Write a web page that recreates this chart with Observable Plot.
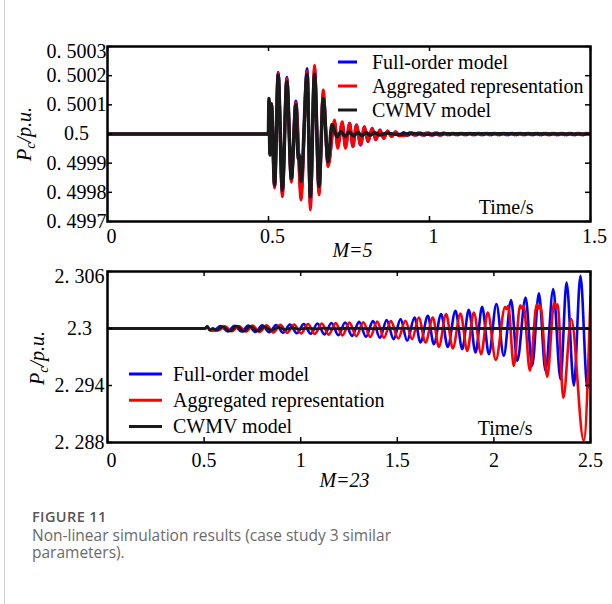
<!DOCTYPE html>
<html><head><meta charset="utf-8">
<script src="https://cdn.jsdelivr.net/npm/d3@7"></script>
<script src="https://cdn.jsdelivr.net/npm/@observablehq/plot@0.6"></script>
<style>
body{margin:0;background:#fff;}
#wrap{position:relative;width:612px;height:604px;overflow:hidden;background:#fff;}
#border{position:absolute;left:4px;top:0;width:1px;height:604px;background:#d0d0d0;}
#top{position:absolute;left:0;top:0;}
#bottom{position:absolute;left:0;top:255px;}
#caption{position:absolute;left:32px;top:507px;font-family:'Open Sans',sans-serif;color:#6a6a6a;}
.fig{font-weight:600;font-size:14.5px;color:#555;letter-spacing:0.4px;line-height:20px;}
.cap{font-size:15.5px;line-height:17px;font-weight:400;}
</style></head>
<body><div id="wrap"><div id="border"></div><div id="bottom"></div><div id="top"></div>
<div id="caption"><div class="fig">FIGURE 11</div><div class="cap">Non-linear simulation results (case study 3 similar<br>parameters).</div></div></div>
<script>
// ---------- data ----------
const legendLabels = ["Full-order model", "Aggregated representation", "CWMV model"];
const seriesColors = ["#0000ff", "#ff0000", "#1a1a1a"];

// top panel (M=5)
const topXTicks = [0, 0.5, 1, 1.5];
const topXLabels = ["0", "0.5", "1", "1.5"];
const topYTicks = [0.4997, 0.4998, 0.4999, 0.5, 0.5001, 0.5002, 0.5003];
const topYLabels = ["0. 4997", "0. 4998", "0. 4999", "0.5", "0. 5001", "0. 5002", "0. 5003"];

const topBlue = [
  [0,0.5],[0.4995,0.5],[0.5015,0.500115],[0.5045,0.499935],[0.509,0.500105],[0.519,0.49982],
  [0.530,0.500212],[0.543,0.499795],[0.557,0.500195],[0.571,0.49984],[0.585,0.500113],
  [0.601,0.499798],[0.620,0.500225],[0.630,0.499757],[0.643,0.500225],[0.657,0.499802],
  [0.670,0.500139],[0.685,0.499894],[0.705,0.50004],[0.715,0.49996],[0.729,0.500037],
  [0.739,0.499957],[0.752,0.500037],[0.762,0.499957],[0.773,0.500031],[0.786,0.499962],
  [0.798,0.500025],[0.809,0.499974],[0.822,0.50002],[0.833,0.49998],[0.846,0.500014],
  [0.858,0.499985],[0.870,0.50001],[0.882,0.499991],[0.895,0.500008],[0.906,0.499994],
  [0.920,0.500005],[0.932,0.499995],[0.945,0.500004],[0.958,0.499996],[0.971,0.500004],
  [0.984,0.499996],[0.997,0.500004],[1.010,0.499996],[1.023,0.500004],[1.036,0.499996],
  [1.049,0.500003],[1.062,0.499997],[1.075,0.500003],[1.088,0.499997],[1.101,0.500003],
  [1.114,0.499997],[1.127,0.500003],[1.140,0.499997],[1.153,0.500003],[1.166,0.499997],
  [1.179,0.500003],[1.192,0.499997],[1.205,0.500003],[1.218,0.499997],[1.231,0.500003],
  [1.244,0.499997],[1.257,0.500003],[1.270,0.499997],[1.283,0.500003],[1.296,0.499997],
  [1.309,0.500003],[1.322,0.499997],[1.335,0.500003],[1.348,0.499997],[1.361,0.500003],
  [1.374,0.499997],[1.387,0.500003],[1.400,0.499997],[1.413,0.500003],[1.426,0.499997],
  [1.439,0.500003],[1.452,0.499997],[1.465,0.500003],[1.478,0.499997],[1.491,0.500003],[1.5,0.5]
];
const topRed = [
  [0,0.5],[0.4995,0.5],[0.5015,0.500115],[0.5045,0.499935],[0.509,0.500105],[0.519,0.499815],
  [0.530,0.500208],[0.543,0.499785],[0.557,0.50019],[0.571,0.499835],[0.585,0.500108],
  [0.601,0.499774],[0.620,0.500215],[0.630,0.49974],[0.643,0.500236],[0.657,0.499791],
  [0.670,0.500151],[0.685,0.499888],[0.705,0.500048],[0.715,0.499951],[0.729,0.500042],
  [0.739,0.499951],[0.752,0.500037],[0.762,0.499957],[0.773,0.500031],[0.786,0.499962],
  [0.798,0.500025],[0.809,0.499974],[0.822,0.50002],[0.833,0.49998],[0.846,0.500014],
  [0.858,0.499985],[0.870,0.50001],[0.882,0.499991],[0.895,0.500008],[0.906,0.499994],
  [0.926,0.499995],[0.939,0.500005],[0.952,0.499996],[0.965,0.500004],[0.978,0.499996],
  [0.991,0.500004],[1.004,0.499996],[1.017,0.500004],[1.030,0.499996],[1.043,0.500004],
  [1.056,0.499997],[1.069,0.500003],[1.082,0.499997],[1.095,0.500003],[1.108,0.499997],
  [1.121,0.500003],[1.134,0.499997],[1.147,0.500003],[1.160,0.499997],[1.173,0.500003],
  [1.186,0.499997],[1.199,0.500003],[1.212,0.499997],[1.225,0.500003],[1.238,0.499997],
  [1.251,0.500003],[1.264,0.499997],[1.277,0.500003],[1.290,0.499997],[1.303,0.500003],
  [1.316,0.499997],[1.329,0.500003],[1.342,0.499997],[1.355,0.500003],[1.368,0.499997],
  [1.381,0.500003],[1.394,0.499997],[1.407,0.500003],[1.420,0.499997],[1.433,0.500003],
  [1.446,0.499997],[1.459,0.500003],[1.472,0.499997],[1.485,0.500003],[1.5,0.5]
];
const topBlack = [
  [0,0.5],[0.4995,0.5],[0.5015,0.500122],[0.5045,0.499928],[0.509,0.500102],[0.519,0.499825],
  [0.530,0.500202],[0.543,0.499808],[0.557,0.500179],[0.571,0.499848],[0.585,0.5001],
  [0.5925,0.499915],[0.595,0.49993],[0.601,0.499837],[0.620,0.500205],[0.630,0.499785],
  [0.643,0.500205],[0.657,0.49982],[0.670,0.500122],[0.685,0.499905],[0.697,0.500033],
  [0.713,0.499991],[0.725,0.500008],[0.738,0.499992],[0.751,0.500007],[0.764,0.499993],
  [0.777,0.500006],[0.790,0.499994],[0.803,0.500005],[0.816,0.499996],[0.829,0.500004],
  [0.845,0.499997],[0.870,0.500003],[0.900,0.499998],[0.940,0.500002],[0.990,0.499999],
  [1.050,0.500001],[1.5,0.5]
];

// bottom panel (M=23)
const botXTicks = [0, 0.5, 1, 1.5, 2, 2.5];
const botXLabels = ["0", "0.5", "1", "1.5", "2", "2.5"];
const botYTicks = [2.288, 2.294, 2.3, 2.306];
const botYLabels = ["2. 288", "2. 294", "2.3", "2. 306"];

const botBlue = [
  [0,2.3],[0.505,2.3],[0.516,2.30021],[0.530,2.29985],[0.550,2.2998],[0.586,2.30025],
  [0.622,2.2997],[0.658,2.30028],[0.694,2.29968],[0.729,2.3003],[0.765,2.29964],
  [0.801,2.30033],[0.837,2.2996],[0.873,2.30037],[0.909,2.29955],[0.944,2.30042],
  [0.980,2.2995],[1.016,2.30047],[1.052,2.29944],[1.087,2.30052],[1.123,2.29938],
  [1.159,2.30058],[1.195,2.2993],[1.230,2.30063],[1.266,2.29922],[1.302,2.3007],
  [1.338,2.29913],[1.374,2.30078],[1.410,2.29902],[1.445,2.30088],[1.481,2.29888],
  [1.517,2.30099],[1.551,2.29871],[1.589,2.30116],[1.620,2.29853],[1.658,2.30134],
  [1.689,2.29836],[1.727,2.30151],[1.761,2.29807],[1.801,2.30186],[1.836,2.29783],
  [1.870,2.30197],[1.905,2.29747],[1.939,2.30228],[1.974,2.2973],[2.013,2.30257],
  [2.051,2.29713],[2.089,2.303],[2.121,2.2966],[2.164,2.30326],[2.198,2.29607],
  [2.233,2.3037],[2.267,2.29555],[2.307,2.30415],[2.345,2.29467],[2.376,2.30484],
  [2.414,2.294],[2.448,2.30555],[2.484,2.2937],[2.5,2.2968]
];
const botRed = [
  [0,2.3],[0.505,2.3],[0.516,2.30021],[0.530,2.29985],[0.572,2.2998],[0.608,2.30022],
  [0.644,2.29972],[0.680,2.30026],[0.716,2.29968],[0.751,2.3003],[0.787,2.29964],
  [0.823,2.30033],[0.859,2.29958],[0.895,2.30038],[0.930,2.29954],[0.966,2.30042],
  [1.002,2.29948],[1.038,2.30048],[1.073,2.29942],[1.109,2.30052],[1.145,2.29936],
  [1.181,2.30057],[1.216,2.29928],[1.252,2.30062],[1.288,2.2992],[1.324,2.30066],
  [1.360,2.29912],[1.396,2.30072],[1.431,2.29903],[1.467,2.30078],[1.505,2.29895],
  [1.542,2.30081],[1.577,2.29888],[1.611,2.30116],[1.646,2.29853],[1.684,2.30116],
  [1.715,2.29807],[1.753,2.30151],[1.787,2.2979],[1.827,2.30158],[1.862,2.29765],
  [1.896,2.30168],[1.934,2.2973],[1.968,2.30168],[2.010,2.2967],[2.058,2.30225],
  [2.066,2.30205],[2.074,2.30239],[2.103,2.29606],[2.136,2.30245],[2.145,2.3021],
  [2.154,2.30238],[2.186,2.29555],[2.222,2.30255],[2.231,2.3021],[2.240,2.30245],
  [2.276,2.2949],[2.312,2.3027],[2.321,2.3022],[2.330,2.30255],[2.359,2.2927],
  [2.400,2.3010],[2.465,2.2882],[2.5,2.30344]
];
const botBlack = [
  [0,2.3],[0.505,2.3],[0.516,2.30021],[0.530,2.29983],[0.545,2.30002],[0.561,2.2998],
  [0.597,2.3002],[0.633,2.29972],[0.669,2.30024],[0.705,2.2997],[0.740,2.30022],
  [0.776,2.29974],[0.812,2.30018],[0.848,2.2998],[0.884,2.30012],[0.920,2.29988],
  [0.955,2.30008],[0.990,2.29993],[1.03,2.30005],[1.07,2.29996],[1.12,2.30003],
  [1.17,2.29998],[1.25,2.30002],[1.35,2.29999],[1.5,2.30001],[1.7,2.3],[2.5,2.3]
];

// ---------- drawing ----------
const serif = "'Liberation Serif','Times New Roman',serif";

function panel(o) {
  const W = 612, mL = 107, mR = 22;
  const fw = W - mL - mR, fh = o.height - o.marginTop - o.marginBottom;
  const fmt = (ticks, labels) => d => labels[ticks.indexOf(d)];
  const mk = (data, color, sw) => Plot.line(data, {x: d => d[0], y: d => d[1], stroke: color, strokeWidth: sw, curve: "monotone-x", clip: true});
  const tk = {stroke: "black", strokeWidth: 1.5};
  const yMain = o.yTicks.slice(0, -1), yTop = o.yTicks.slice(-1);
  const svg = Plot.plot({
    width: W, height: o.height, marginTop: o.marginTop, marginBottom: o.marginBottom,
    marginLeft: mL, marginRight: mR,
    style: {fontFamily: serif, fontSize: "20px", background: "transparent", color: "black"},
    x: {domain: o.xDomain, axis: null},
    y: {domain: o.yDomain, axis: null},
    marks: [
      mk(o.blue, seriesColors[0], o.sw),
      mk(o.red, seriesColors[1], o.sw),
      mk(o.black, seriesColors[2], o.swBlack),
      Plot.tickX(o.xTicks, {x: d => d, insetTop: fh - 5, ...tk}),
      Plot.tickX(o.xTicks, {x: d => d, insetBottom: fh - 5, ...tk}),
      Plot.tickY(o.yTicks, {y: d => d, insetRight: fw - 5, ...tk}),
      Plot.tickY(o.yTicks, {y: d => d, insetLeft: fw - 5, ...tk}),
      Plot.frame({stroke: "black", strokeWidth: 2.5}),
      // x tick labels
      Plot.text(o.xTicks.slice(1), {x: d => d, text: fmt(o.xTicks, o.xLabels), frameAnchor: "bottom", dy: o.xPad, dx: o.xDx, lineAnchor: "middle", fontSize: 20}),
      Plot.text(o.xTicks.slice(0, 1), {x: d => d, text: fmt(o.xTicks, o.xLabels), frameAnchor: "bottom", dy: o.xPad, dx: 4, lineAnchor: "middle", fontSize: 20}),
      // y tick labels, centred
      Plot.text(yMain, {y: d => d, text: fmt(o.yTicks, o.yLabels), frameAnchor: "left", dx: -o.yPad, textAnchor: "middle", lineAnchor: "middle", fontSize: 20}),
      Plot.text(yTop, {y: d => d, text: fmt(o.yTicks, o.yLabels), frameAnchor: "left", dx: -o.yPad, dy: 5, textAnchor: "middle", lineAnchor: "middle", fontSize: 20}),
      Plot.text(["Time/s"], {text: d => d, frameAnchor: "bottom-right", dx: o.timeDx, dy: -14, textAnchor: "end", lineAnchor: "middle", fontSize: 20}),
      Plot.text([o.mText], {text: d => d, frameAnchor: "bottom", dx: o.mDx, dy: o.mDy, lineAnchor: "middle", fontSize: 20, fontStyle: "italic"})
    ]
  });
  const s = d3.select(svg);
  // y label with subscript
  const t = s.append("text")
    .attr("transform", `translate(${o.ylx},${o.yly}) rotate(-90)`)
    .attr("text-anchor", "middle").attr("font-style", "italic")
    .attr("font-family", serif).attr("font-size", 20).attr("fill", "black");
  t.append("tspan").text("P");
  t.append("tspan").attr("font-size", 14).attr("dy", 4).text("c");
  t.append("tspan").attr("dy", -4).text("/p.u.");
  // legend
  const lg = s.append("g").attr("font-family", serif).attr("font-size", 20).attr("text-anchor", "start");
  legendLabels.forEach((lab, i) => {
    const y = o.lg.y0 + i * o.lg.dy;
    lg.append("line").attr("x1", o.lg.x1).attr("x2", o.lg.x2).attr("y1", y).attr("y2", y)
      .attr("stroke", seriesColors[i]).attr("stroke-width", 3);
    lg.append("text").attr("x", o.lg.tx).attr("y", y).attr("dy", "0.33em")
      .attr("text-anchor", "start").attr("fill", "black").text(lab);
  });
  return svg;
}

document.getElementById("top").appendChild(panel({
  height: 262, marginTop: 46, marginBottom: 41,
  xDomain: [0, 1.5], yDomain: [0.4997, 0.5003],
  xTicks: topXTicks, xLabels: topXLabels, yTicks: topYTicks, yLabels: topYLabels,
  blue: topBlue, red: topRed, black: topBlack, sw: 3, swBlack: 3.5,
  xPad: 15, xDx: 4, yPad: 31, timeDx: -57, mText: "M=5", mDx: 3.5, mDy: 29,
  ylx: 31, yly: 134,
  lg: {x1: 338, x2: 357, tx: 372, y0: 62, dy: 24}
}));
document.getElementById("bottom").appendChild(panel({
  height: 237, marginTop: 16, marginBottom: 50,
  xDomain: [0, 2.5], yDomain: [2.288, 2.306],
  xTicks: botXTicks, xLabels: botXLabels, yTicks: botYTicks, yLabels: botYLabels,
  blue: botBlue, red: botRed, black: botBlack, sw: 2.6, swBlack: 2.8,
  xPad: 18, xDx: 0, yPad: 28, timeDx: -58, mText: "M=23", mDx: -4.5, mDy: 38,
  ylx: 44, yly: 103,
  lg: {x1: 129, x2: 162, tx: 173, y0: 119, dy: 26.3}
}));
</script>
</body></html>
